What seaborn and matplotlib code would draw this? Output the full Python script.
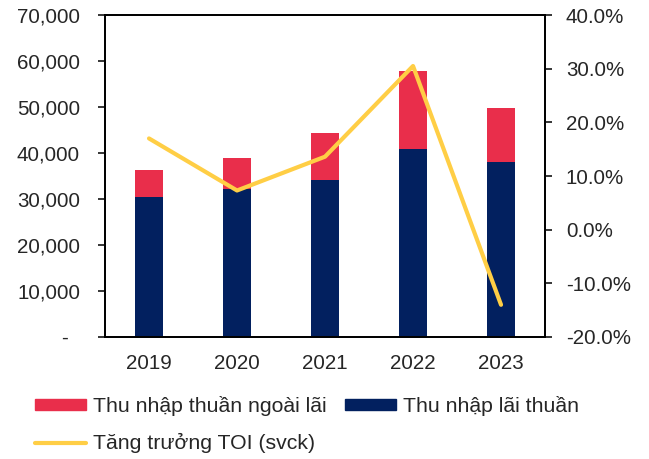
import matplotlib
matplotlib.use("Agg")
import matplotlib.pyplot as plt
import matplotlib.ticker as mticker
from matplotlib.patches import Patch
from matplotlib.lines import Line2D
import numpy as np
import seaborn as sns

years = ["2019", "2020", "2021", "2022", "2023"]
net_interest = [30500, 32250, 34200, 40950, 38100]      # Thu nhập lãi thuần
total_income = [36300, 38980, 44280, 57830, 49700]      # tổng TOI (đỉnh cột)
toi_growth = [17.0, 7.3, 13.6, 30.5, -14.0]             # % svck

red = "#E92E4B"
navy = "#02205F"
yellow = "#FFCE45"

sns.set_style("white")
plt.rcParams["font.family"] = ["Liberation Sans", "DejaVu Sans"]
fs = 14.8

fig = plt.figure(figsize=(6.49, 4.59), dpi=100)
ax = fig.add_axes([0.1618, 0.2658, 0.678, 0.7015])

sns.barplot(x=years, y=total_income, color=red, width=0.31, ax=ax,
            saturation=1, edgecolor="none")
sns.barplot(x=years, y=net_interest, color=navy, width=0.31, ax=ax,
            saturation=1, edgecolor="none")
ax.set_ylim(0, 70000)
ax.set_xlim(-0.5, len(years) - 0.5)
ax.yaxis.set_major_locator(mticker.MultipleLocator(10000))
ax.yaxis.set_major_formatter(mticker.FuncFormatter(
    lambda v, p: "-  " if v == 0 else f"{v:,.0f}"))
ax.tick_params(axis="y", direction="out", length=5, width=1.3, labelsize=fs,
               left=True, pad=13)
ax.tick_params(axis="x", length=0, labelsize=fs, pad=12.5)

ax2 = ax.twinx()
sns.lineplot(x=np.arange(len(years)), y=toi_growth, ax=ax2, color=yellow,
             linewidth=3, sort=False)
ax2.set_ylim(-20, 40)
ax2.set_xlim(-0.5, len(years) - 0.5)
ax2.yaxis.set_major_locator(mticker.MultipleLocator(10))
ax2.yaxis.set_major_formatter(mticker.FuncFormatter(lambda v, p: f"{v:.1f}%"))
ax2.tick_params(axis="y", direction="out", length=5, width=1.3, labelsize=fs,
                right=True, pad=10)

for a in (ax, ax2):
    for s in a.spines.values():
        s.set_visible(True)
        s.set_color("black")
        s.set_linewidth(1.3)
ax.set_xlabel("")
ax.set_ylabel("")
ax2.set_ylabel("")

handles = [Patch(color=red), Line2D([], [], color=yellow, linewidth=3),
           Patch(color=navy)]
labels = ["Thu nhập thuần ngoài lãi", "Tăng trưởng TOI (svck)",
          "Thu nhập lãi thuần"]
fig.legend(handles, labels, loc="upper left", bbox_to_anchor=(0.054, 0.137),
           ncol=2, frameon=False, fontsize=15.3, handlelength=2.4,
           handleheight=0.43, handletextpad=0.33, columnspacing=0.85,
           labelspacing=0.8, borderaxespad=0, borderpad=0)

fig.savefig("out.png", dpi=100)
